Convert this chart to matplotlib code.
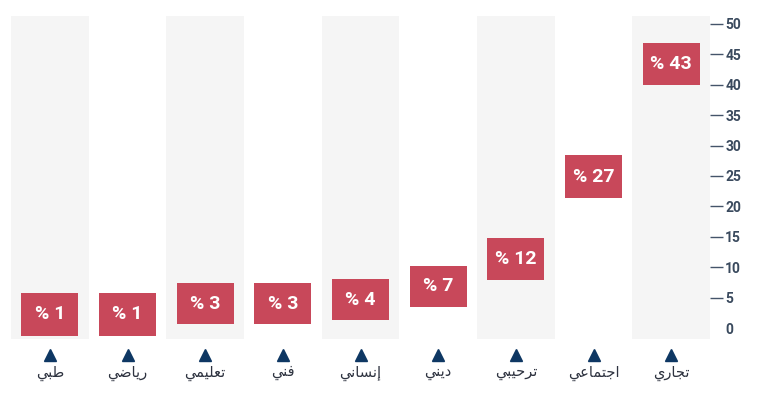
import matplotlib
matplotlib.use("Agg")
import matplotlib.pyplot as plt
from matplotlib.transforms import blended_transform_factory

# Data (right-to-left order, as read in the chart)
categories = ["تجاري", "اجتماعي", "ترحيبي", "ديني", "إنساني", "فني", "تعليمي", "رياضي", "طبي"]
values = [43, 27, 12, 7, 4, 3, 3, 1, 1]
box_low = [39.9, 21.4, 8.0, 3.5, 1.3, 0.7, 0.7, -1.2, -1.2]
box_high = [46.8, 28.4, 14.9, 10.3, 8.1, 7.4, 7.4, 5.8, 5.8]
y_ticks = [0, 5, 10, 15, 20, 25, 30, 35, 40, 45, 50]

# --- minimal Arabic shaping (presentation forms) ---
FORMS = {
    "\u0627": (0xFE8D, 0xFE8E, None, None),
    "\u0625": (0xFE87, 0xFE88, None, None),
    "\u0628": (0xFE8F, 0xFE90, 0xFE91, 0xFE92),
    "\u062A": (0xFE95, 0xFE96, 0xFE97, 0xFE98),
    "\u062C": (0xFE9D, 0xFE9E, 0xFE9F, 0xFEA0),
    "\u062D": (0xFEA1, 0xFEA2, 0xFEA3, 0xFEA4),
    "\u062F": (0xFEA9, 0xFEAA, None, None),
    "\u0631": (0xFEAD, 0xFEAE, None, None),
    "\u0633": (0xFEB1, 0xFEB2, 0xFEB3, 0xFEB4),
    "\u0636": (0xFEBD, 0xFEBE, 0xFEBF, 0xFEC0),
    "\u0637": (0xFEC1, 0xFEC2, 0xFEC3, 0xFEC4),
    "\u0639": (0xFEC9, 0xFECA, 0xFECB, 0xFECC),
    "\u0641": (0xFED1, 0xFED2, 0xFED3, 0xFED4),
    "\u0644": (0xFEDD, 0xFEDE, 0xFEDF, 0xFEE0),
    "\u0645": (0xFEE1, 0xFEE2, 0xFEE3, 0xFEE4),
    "\u0646": (0xFEE5, 0xFEE6, 0xFEE7, 0xFEE8),
    "\u064A": (0xFEF1, 0xFEF2, 0xFEF3, 0xFEF4),
}


def shape(word):
    out = []
    n = len(word)
    for i, ch in enumerate(word):
        f = FORMS.get(ch)
        if f is None:
            out.append(ch)
            continue
        prev = word[i - 1] if i > 0 else None
        nxt = word[i + 1] if i < n - 1 else None
        join_prev = prev is not None and prev in FORMS and FORMS[prev][2] is not None
        join_next = nxt is not None and nxt in FORMS and f[2] is not None
        if join_prev and join_next:
            cp = f[3]
        elif join_prev:
            cp = f[1]
        elif join_next:
            cp = f[2]
        else:
            cp = f[0]
        out.append(chr(cp))
    return "".join(reversed(out))


W, H = 761, 396
fig = plt.figure(figsize=(W / 100, H / 100), dpi=100)
ax = fig.add_axes([11 / W, (H - 339) / H, (710 - 11) / W, (339 - 16) / H])

n = len(categories)
x = list(range(n))
band_color = "#f5f5f5"
red = "#c8485a"
navy = "#0e3763"

for i in x:
    if i % 2 == 0:
        ax.axvspan(i - 0.5, i + 0.5, color=band_color, lw=0, zorder=0)

heights = [h - l for h, l in zip(box_high, box_low)]
ax.bar(x, heights, bottom=box_low, width=0.73, color=red, zorder=2)
for xi, lo, hi, v in zip(x, box_low, box_high, values):
    ax.text(xi, (lo + hi) / 2, f"% {v}", ha="center", va="center",
            color="white", fontsize=14, fontweight="bold",
            family="Roboto", zorder=3)

ax.set_xlim(-0.5, n - 0.5)
ax.invert_xaxis()
ax.set_ylim(-1.75, 51.25)

for s in ax.spines.values():
    s.set_visible(False)

ax.set_xticks([])
ax.yaxis.tick_right()
ax.set_yticks(y_ticks)
ax.set_yticklabels([str(t) for t in y_ticks])
ax.tick_params(axis="y", length=9, width=1, color="#44546a", pad=2,
               labelsize=10, labelcolor="#3a4a5e")
for lab in ax.get_yticklabels():
    lab.set_fontweight("bold")
    lab.set_family("Roboto")
ax.yaxis.get_major_ticks()[0].tick2line.set_visible(False)

trans = blended_transform_factory(ax.transData, ax.transAxes)
ax.plot(x, [-0.05] * n, marker="^", ms=8.5, color=navy, lw=0,
        transform=trans, clip_on=False)
for xi, c in zip(x, categories):
    ax.text(xi, -0.105, shape(c), transform=trans, ha="center", va="center",
            fontsize=10.5, color="#2e3340", family="DejaVu Sans")

fig.savefig("out.png", dpi=100)
